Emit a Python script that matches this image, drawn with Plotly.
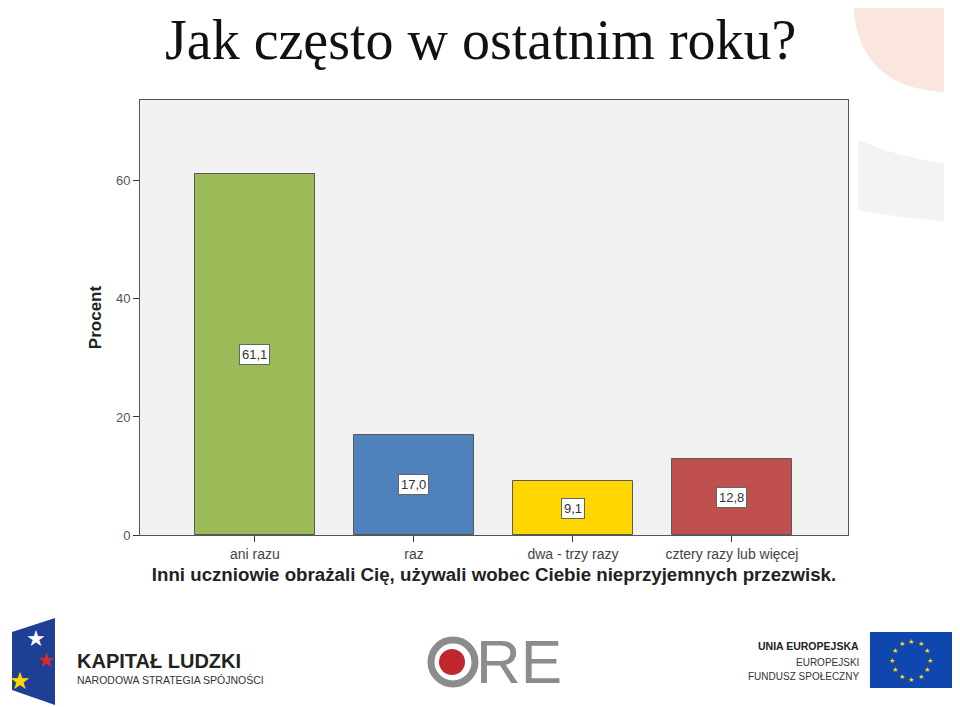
import math
import plotly.graph_objects as go

categories = ["ani razu", "raz", "dwa - trzy razy", "cztery razy lub więcej"]
values = [61.1, 17.0, 9.1, 12.8]
value_labels = ["61,1", "17,0", "9,1", "12,8"]
bar_colors = ["#9bbb59", "#4f81bd", "#ffd700", "#c0504d"]
y_ticks = [0, 20, 40, 60]

# page has an 8px body margin; work in reference pixel coords and shift
OFF = 8
W, H = 960 - OFF, 707 - OFF
L, R, T, B = 140, 848, 100, 535  # plot area in reference pixels


def px(x):
    return (x - L) / (R - L)


def py(y):
    return (B - y) / (B - T)


fig = go.Figure()
fig.add_trace(go.Bar(
    x=list(range(len(categories))), y=values,
    marker=dict(color=bar_colors, line=dict(color="#5a5a5a", width=1)),
    width=0.755, hoverinfo="skip",
))

annotations = []
for i, (v, lab) in enumerate(zip(values, value_labels)):
    annotations.append(dict(
        x=i, y=v / 2, xref="x", yref="y", text=lab, showarrow=False,
        font=dict(family="Liberation Sans, Arial", size=13, color="#333"),
        bgcolor="white", bordercolor="#666", borderwidth=1, borderpad=2,
    ))

# Title
annotations.append(dict(
    x=px(480), y=py(40), xref="paper", yref="paper", text="Jak często w ostatnim roku?",
    showarrow=False, font=dict(family="Liberation Serif, DejaVu Serif", size=56, color="#111"),
    xanchor="center", yanchor="middle",
))

# Logos (text parts)
logo_txt = [
    dict(x=px(75), y=py(661), text="<b>KAPITAŁ LUDZKI</b>", xanchor="left",
         font=dict(family="Liberation Sans Narrow, Liberation Sans", size=20, color="#222")),
    dict(x=px(75), y=py(680), text="NARODOWA STRATEGIA SPÓJNOŚCI", xanchor="left",
         font=dict(family="Liberation Sans Narrow, Liberation Sans", size=10.5, color="#333")),
    dict(x=px(474), y=py(661), text="RE", xanchor="left",
         font=dict(family="Liberation Sans Narrow, Liberation Sans", size=62, color="#8c8c8c")),
    dict(x=px(861), y=py(646), text="<b>UNIA EUROPEJSKA</b>", xanchor="right",
         font=dict(family="Liberation Sans Narrow, Liberation Sans", size=10.5, color="#222")),
    dict(x=px(861), y=py(662), text="EUROPEJSKI", xanchor="right",
         font=dict(family="Liberation Sans Narrow, Liberation Sans", size=10, color="#333")),
    dict(x=px(861), y=py(676), text="FUNDUSZ SPOŁECZNY", xanchor="right",
         font=dict(family="Liberation Sans Narrow, Liberation Sans", size=10, color="#333")),
]
for a in logo_txt:
    a.update(xref="paper", yref="paper", showarrow=False, yanchor="middle")
annotations += logo_txt

# EU stars
cx, cy, rr = 911, 660, 19
for k in range(12):
    ang = 2 * math.pi * k / 12
    annotations.append(dict(
        x=px(cx + rr * math.sin(ang)), y=py(cy - rr * math.cos(ang)),
        xref="paper", yref="paper", text="★", showarrow=False,
        font=dict(size=7, color="#ffdd00"), xanchor="center", yanchor="middle"))
# Kapitał Ludzki stars
for sx, sy, col, sz in [(36, 638, "white", 22), (20, 680, "#ffd700", 24), (46, 660, "#d42a2a", 20)]:
    annotations.append(dict(x=px(sx), y=py(sy), xref="paper", yref="paper", text="★",
                            showarrow=False, font=dict(size=sz, color=col),
                            xanchor="center", yanchor="middle"))

shapes = [
    # decorative peach quarter circle
    dict(type="path", xref="paper", yref="paper",
         path=f"M {px(944)} {py(-10)} L {px(853)} {py(-10)} L {px(853)} {py(0)} "
              f"Q {px(856)} {py(88)} {px(944)} {py(92)} Z",
         fillcolor="#fbe6de", line=dict(width=0), layer="below"),
    # decorative gray band
    dict(type="path", xref="paper", yref="paper",
         path=f"M {px(858)} {py(140)} Q {px(900)} {py(158)} {px(944)} {py(163)} "
              f"L {px(944)} {py(221)} Q {px(900)} {py(218)} {px(858)} {py(210)} Z",
         fillcolor="#f3f3f3", line=dict(width=0), layer="below"),
    # Kapitał Ludzki blue panel
    dict(type="path", xref="paper", yref="paper",
         path=f"M {px(12)} {py(632)} L {px(55)} {py(618)} L {px(55)} {py(705)} L {px(12)} {py(690)} Z",
         fillcolor="#1f3f95", line=dict(width=0)),
    # ORE ring
    dict(type="circle", xref="paper", yref="paper",
         x0=px(431), x1=px(475), y0=py(640), y1=py(684),
         fillcolor="rgba(0,0,0,0)", line=dict(color="#8c8c8c", width=7)),
    dict(type="circle", xref="paper", yref="paper",
         x0=px(439), x1=px(465), y0=py(649), y1=py(675),
         fillcolor="#c0272d", line=dict(width=0)),
    # EU flag
    dict(type="rect", xref="paper", yref="paper",
         x0=px(870), x1=px(952), y0=py(632), y1=py(688),
         fillcolor="#0f47af", line=dict(width=0)),
]

fig.update_layout(
    width=W, height=H,
    margin=dict(l=L - OFF, r=W - (R - OFF), t=T - OFF, b=H - (B - OFF), pad=0),
    paper_bgcolor="white", plot_bgcolor="#f1f1f1",
    showlegend=False, bargap=0,
    annotations=annotations, shapes=shapes,
    font=dict(family="Liberation Sans, Arial", color="#333"),
)
fig.update_xaxes(
    range=[-0.723, 3.73], tickmode="array", tickvals=list(range(len(categories))),
    ticktext=categories, ticks="outside", ticklen=6, tickcolor="#333",
    tickfont=dict(size=14, color="#444"),
    showline=True, linecolor="#555", linewidth=1, mirror=True, showgrid=False, zeroline=False,
    title=dict(text="<b>Inni uczniowie obrażali Cię, używali wobec Ciebie nieprzyjemnych przezwisk.</b>",
               font=dict(size=18.7, color="#222"), standoff=7),
)
fig.update_yaxes(
    range=[0, 73.7], tickvals=y_ticks, ticks="outside", ticklen=6, tickcolor="#333",
    tickfont=dict(size=13, color="#555"),
    showline=True, linecolor="#555", linewidth=1, mirror=True, showgrid=False, zeroline=False,
    title=dict(text="<b>Procent</b>", font=dict(size=17, color="#222"), standoff=9),
)

fig.write_html("out.html")
